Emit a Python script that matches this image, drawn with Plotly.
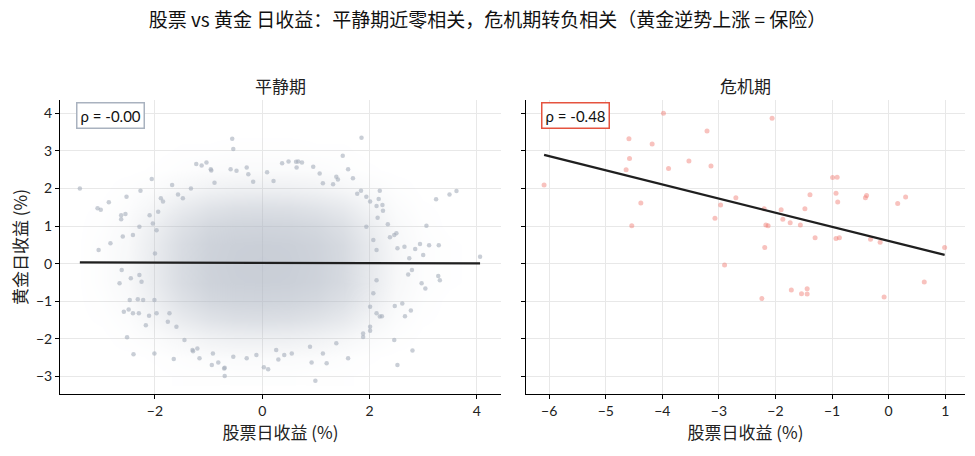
import numpy as np
import plotly.graph_objects as go
from plotly.subplots import make_subplots

# ---------------- data ----------------
# calm period: individually readable points in the sparse outer part of the cloud
calm_x = [-0.56, -0.54, -3.40, -2.06, -2.27, -2.53, -2.86, -3.07, -3.01, -2.63, -2.55, -2.63,
          -1.23, -1.13, -1.04, -0.95, -0.59, -0.48, 0.37, 0.49, 0.63, -2.83, -1.33, -1.68,
          -1.57, -1.89, -2.10, -2.29, -2.41, -2.60, 1.85, 1.50, 1.60, 0.95, 0.67, 0.74,
          1.69, 1.41, 1.32, 1.84, 2.19, 1.77, 2.17, 2.01, 2.13, 2.24, 3.24, 3.49, 3.62,
          3.06, 2.34, 2.15, 2.25, 2.46, 2.50, 2.38, 2.65, 2.85, 2.94, 3.11, 3.29, -3.05,
          -2.62, -2.45, -2.66, -2.29, -2.25, -2.47, -2.32, -2.22, -2.58, -2.49, -2.41, -2.30,
          -2.17, -2.11, -2.52, -2.40, -2.01, -1.65, -1.30, -1.21, -0.94, -0.82, -0.71, -0.70,
          -0.54, -0.29, -0.11, 0.03, 0.11, 0.30, 0.41, 0.55, -1.45, -1.29, -2.00, 4.06,
          3.28, 3.31, 2.97, 3.04, 2.77, 2.66, 2.61, 2.47, 2.80, 2.46, 2.52, 1.60, 1.20,
          0.92, 0.99, 2.19, 2.23, 1.88, 2.01, 2.72, 2.79, 2.52, 3.00, 2.74, -0.70,
          -0.96, -0.89, -0.29, -0.26, -0.17, 0.09, 0.21, 0.64, 1.07, 1.13, 1.38, 1.94,
          -1.48, -1.85, -1.94, -2.04, -1.97, -1.73, -1.76, -1.60, -1.17, -0.92, 0.26, 0.89,
          1.13, 1.38, 1.88, 2.01, 2.13, -2.01, -1.97, 1.94, 2.07, 2.13, 2.13, 2.07, 2.01]
calm_y = [3.32, 3.05, 2.00, 2.25, 1.94, 1.78, 1.63, 1.47, 1.43, 1.29, 1.32, 1.18,
          2.65, 2.61, 2.69, 2.48, 2.51, 2.47, 2.67, 2.72, 2.71, 0.54, 2.00, 2.09,
          1.84, 1.74, 1.29, 0.98, 0.76, 0.72, 3.35, 2.87, 2.51, 2.58, 2.72, 2.69,
          2.27, 2.24, 2.11, 1.94, 1.94, 1.86, 1.72, 1.65, 1.53, 1.56, 1.71, 1.84, 1.93,
          1.01, 1.05, 1.22, 1.41, 0.76, 0.81, 0.70, 0.45, 0.39, 0.52, 0.49, 0.49, 0.36,
          -0.17, -0.39, -0.52, -0.30, -0.48, -0.97, -0.95, -0.97, -1.28, -1.22, -1.32, -1.32,
          -1.64, -1.39, -1.96, -2.41, -2.39, -2.54, -2.30, -2.26, -2.70, -2.63, -2.79, -2.99,
          -2.48, -2.52, -2.43, -2.76, -2.81, -2.55, -2.43, -2.39, -2.03, -2.33, 0.27, 0.18,
          -0.33, -0.44, -0.52, -0.66, -1.25, -1.40, -1.06, -1.13, -2.31, -2.03, -2.70, -2.52, -2.65,
          -2.63, -3.12, -1.41, -1.40, -1.95, -1.79, -0.29, -0.17, 0.41, 0.23, 0.14, -2.77,
          2.51, 2.15, 2.56, 2.38, 2.18, 2.43, 2.20, 2.56, 2.40, 2.14, 2.31, 1.78,
          1.74, 1.65, 1.38, 1.07, 0.89, -1.32, -1.55, -1.68, -2.52, -2.39, -2.30, -2.21,
          -2.39, -2.12, -1.86, -1.68, -1.32, -0.97, -1.32, 0.98, 0.63, 0.36, -0.44, -0.79, -1.15]

# calm period: estimated point density of the dense core (0 = empty, 1 = saturated)
dens_x = [-3.5, -3.0, -2.5, -2.0, -1.5, -1.0, -0.5, 0.0, 0.5, 1.0, 1.5, 2.0, 2.5, 3.0, 3.5, 4.0]
dens_y = [-3.0, -2.5, -2.0, -1.5, -1.0, -0.5, 0.0, 0.5, 1.0, 1.5, 2.0, 2.5, 3.0, 3.5]
dens_z = [
    [0, 0, 0, 0, .01, .01, .02, .02, .02, .01, .01, 0, 0, 0, 0, 0],
    [0, 0, 0, .01, .03, .05, .06, .06, .06, .05, .03, .01, 0, 0, 0, 0],
    [0, 0, .02, .05, .11, .17, .20, .21, .20, .17, .12, .06, .02, 0, 0, 0],
    [0, .01, .04, .13, .27, .37, .42, .43, .42, .37, .29, .15, .05, .01, 0, 0],
    [0, .02, .07, .22, .40, .52, .56, .57, .56, .52, .42, .24, .08, .02, 0, 0],
    [0, .03, .09, .27, .47, .59, .63, .64, .63, .59, .49, .29, .10, .03, .01, 0],
    [0, .03, .10, .28, .48, .60, .64, .65, .64, .60, .50, .30, .11, .03, .01, 0],
    [0, .03, .09, .27, .47, .59, .63, .64, .63, .59, .49, .29, .10, .03, .01, 0],
    [0, .02, .07, .22, .40, .52, .56, .57, .56, .52, .42, .24, .08, .02, 0, 0],
    [0, .01, .04, .13, .27, .37, .42, .43, .42, .37, .29, .15, .05, .01, 0, 0],
    [0, 0, .02, .05, .11, .17, .20, .21, .20, .17, .12, .06, .02, 0, 0, 0],
    [0, 0, 0, .01, .03, .05, .06, .06, .06, .05, .03, .01, 0, 0, 0, 0],
    [0, 0, 0, 0, .01, .01, .02, .02, .02, .01, .01, 0, 0, 0, 0, 0],
    [0, 0, 0, 0, 0, 0, 0, 0, 0, 0, 0, 0, 0, 0, 0, 0],
]
calm_fit = [-0.003, 0.02]   # slope, intercept

# crisis period points
crisis_x = [-3.98, -3.21, -4.59, -4.18, -4.58, -3.53, -3.14, -4.64, -3.89, -6.09, -2.70, -4.38,
            -2.97, -3.07, -4.54, -2.06, -0.99, -0.91, -0.93, -0.90, -0.39, -0.41, 0.30, 0.16,
            -1.39, -2.20, -1.90, -1.48, -1.87, -1.74, -2.17, -2.13, -1.56, -1.30, -0.93, -0.87,
            -0.32, -0.15, -2.19, 0.99, -2.90, -2.24, -1.72, -1.54, -1.44, -1.44, -0.08, 0.63]
crisis_y = [4.00, 3.53, 3.32, 3.18, 2.80, 2.73, 2.60, 2.50, 2.53, 2.09, 1.75, 1.61,
            1.56, 1.21, 1.01, 3.87, 2.29, 2.30, 1.87, 1.64, 1.81, 1.75, 1.77, 1.60,
            1.83, 1.46, 1.43, 1.46, 1.18, 1.09, 1.03, 1.01, 1.03, 0.69, 0.67, 0.69,
            0.65, 0.57, 0.43, 0.43, -0.04, -0.93, -0.70, -0.80, -0.67, -0.81, -0.89, -0.49]

panel_titles = ["平静期", "危机期"]
rho_labels = ["ρ = -0.00", "ρ = -0.48"]
title_text = "股票 vs 黄金 日收益：平静期近零相关，危机期转负相关（黄金逆势上涨 = 保险）"
x_title = "股票日收益 (%)"
y_title = "黄金日收益 (%)"

# ---------------- figure ----------------
FONT = "Lato, 'Noto Sans CJK SC', sans-serif"
CJK = "'Noto Sans CJK SC', sans-serif"
calm_col = "rgba(165,173,186,0.6)"
crisis_col = "rgba(240,120,110,0.45)"

fig = make_subplots(rows=1, cols=2, shared_yaxes=True, horizontal_spacing=0.0276)

fig.add_trace(go.Heatmap(x=dens_x, y=dens_y, z=dens_z, zmin=0, zmax=1, zsmooth="best",
                         colorscale=[[0, "rgba(172,180,193,0)"], [1, "rgba(172,180,193,1)"]],
                         showscale=False, hoverinfo="skip"), row=1, col=1)
fig.add_trace(go.Scatter(x=calm_x, y=calm_y, mode="markers",
                         marker=dict(size=4.5, color=calm_col, line=dict(width=0)),
                         showlegend=False), row=1, col=1)

cx = np.array(calm_x)
lx = np.array([cx.min(), cx.max()])
fig.add_trace(go.Scatter(x=lx, y=calm_fit[0] * lx + calm_fit[1], mode="lines",
                         line=dict(color="#1f1f1f", width=2.2), showlegend=False), row=1, col=1)

fig.add_trace(go.Scatter(x=crisis_x, y=crisis_y, mode="markers",
                         marker=dict(size=5, color=crisis_col, line=dict(width=0)),
                         showlegend=False), row=1, col=2)
kx = np.array(crisis_x)
ky = np.array(crisis_y)
slope, inter = np.polyfit(kx, ky, 1)
lx2 = np.array([kx.min(), kx.max()])
fig.add_trace(go.Scatter(x=lx2, y=slope * lx2 + inter, mode="lines",
                         line=dict(color="#1f1f1f", width=2.2), showlegend=False), row=1, col=2)

axis_common = dict(showline=True, linecolor="black", linewidth=1, ticks="outside",
                   ticklen=4, tickcolor="black", showgrid=True, gridcolor="#e8e8e8",
                   gridwidth=1, zeroline=False, tickfont=dict(family=FONT, size=14, color="#222"),
                   mirror=False)

fig.update_xaxes(**axis_common)
fig.update_yaxes(**axis_common)
fig.update_xaxes(range=[-3.77, 4.45], tickvals=[-2, 0, 2, 4], domain=[0, 0.4873],
                 title=dict(text=x_title, font=dict(family=CJK, size=17, color="#222"), standoff=6),
                 row=1, col=1)
fig.update_xaxes(range=[-6.41, 1.35], tickvals=[-6, -5, -4, -3, -2, -1, 0, 1], domain=[0.5149, 1],
                 title=dict(text=x_title, font=dict(family=CJK, size=17, color="#222"), standoff=6),
                 row=1, col=2)
fig.update_yaxes(range=[-3.47, 4.354], tickvals=[-3, -2, -1, 0, 1, 2, 3, 4],
                 title=dict(text=y_title, font=dict(family=CJK, size=17, color="#222"), standoff=4),
                 row=1, col=1)
fig.update_yaxes(range=[-3.47, 4.354], tickvals=[-3, -2, -1, 0, 1, 2, 3, 4], showticklabels=False,
                 row=1, col=2)

annotations = []
for i, (t, bc) in enumerate(zip(rho_labels, ["#a9b2bf", "#e5533f"])):
    xr = "x domain" if i == 0 else "x2 domain"
    annotations.append(dict(text=t, xref=xr, yref="y domain", x=0.036 if i == 0 else 0.034, y=0.992,
                            xanchor="left", yanchor="top", showarrow=False,
                            font=dict(family=FONT, size=15, color="#111"),
                            bgcolor="white", bordercolor=bc, borderwidth=1.5, borderpad=3))
for i, t in enumerate(panel_titles):
    xr = "x domain" if i == 0 else "x2 domain"
    annotations.append(dict(text=t, xref=xr, yref="paper", x=0.5, y=1.048, xanchor="center",
                            yanchor="middle", showarrow=False,
                            font=dict(family=CJK, size=17, color="#222")))

fig.update_layout(
    width=975, height=456,
    margin=dict(l=60, r=10, t=100, b=62),
    paper_bgcolor="white", plot_bgcolor="white",
    title=dict(text=title_text, x=0.5, xanchor="center", y=0.956, yanchor="middle",
               font=dict(family=CJK, size=19, color="#111")),
    annotations=annotations,
    showlegend=False,
)

fig.write_html("out.html")
